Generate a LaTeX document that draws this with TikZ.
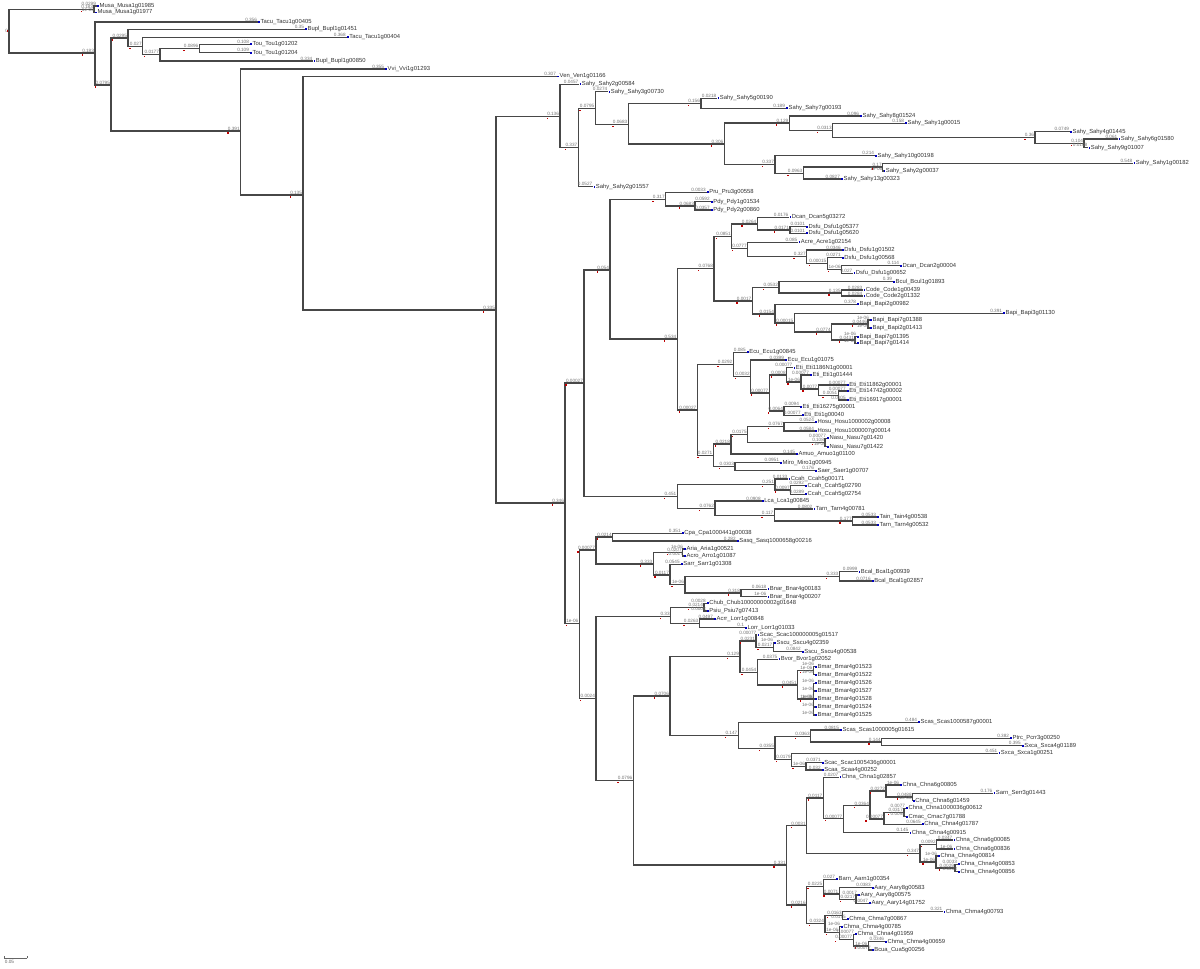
\documentclass[tikz,border=0pt]{standalone}
\usepackage{fontspec}
\setmainfont{Liberation Sans}
\tikzset{
  br/.style={line width=0.78pt, draw=black!72},
  bl/.style={anchor=south east, inner sep=0.2pt, xshift=-0.4pt, yshift=0.1pt, text=black!55, font=\fontsize{3.5}{3.6}\selectfont},
  lf/.style={anchor=west, inner sep=0.2pt, xshift=1.6pt, text=black!80, font=\fontsize{4.4}{5}\selectfont},
  bsq/.style={fill=blue!75!black, inner sep=0pt, minimum width=1.3pt, minimum height=1.3pt, anchor=west},
  rmk/.style={fill=red!75!black, inner sep=0pt, minimum size=1pt}
}
\newcommand{\tnode}[5]{%
  \coordinate (#1) at (#2,#3);
  \draw[br] (#4) |- (#1);
  \node[bl] (#1L) at (#1) {#5};
  \node[rmk] (#1M) at ([xshift=0.4pt,yshift=-1.6pt]#1L.south west) {};
}
\newcommand{\tleaf}[6]{%
  \coordinate (#1) at (#2,#3);
  \draw[br] (#4) |- (#1);
  \node[bl] (#1L) at (#1) {#5};
  \node[bsq] (#1B) at (#1) {};
  \node[lf] (#1T) at (#1) {#6};
}
\begin{document}
\begin{tikzpicture}[x=0.75pt,y=-0.75pt]
\fill[white] (0,0) rectangle (1200,968);
\useasboundingbox (0,0) rectangle (1200,968);
\coordinate (R) at (9,31.5);
\node[bl,anchor=east,xshift=0pt] (RL) at (R) {0};
\node[rmk] (RM) at ([xshift=-1pt,yshift=0.5pt]R) {};
% Musa
\tnode{A}{94}{9.3}{R}{0.183}
\tleaf{a1}{97}{6}{A}{0.0299}{Musa\_Musa1g01985}
\tleaf{a2}{95}{12.5}{A}{1e-06}{Musa\_Musa1g01977}
\tnode{B}{95}{53}{R}{0.183}
\tleaf{b1}{258}{22}{B}{0.356}{Tacu\_Tacu1g00405}
\tnode{B2}{111}{85}{B}{0.0795}
\tnode{B2a}{128}{38}{B2}{0.0295}
\tleaf{c1}{305}{29.3}{B2a}{0.35}{Bupl\_Bupl1g01451}
\tnode{C2}{142.7}{46.7}{B2a}{0.027}
\tleaf{c3}{346.7}{37.3}{C2}{0.368}{Tacu\_Tacu1g00404}
\tnode{C4}{160}{54.5}{C2}{0.0177}
\tnode{C5}{199.3}{48.5}{C4}{0.0896}
\tleaf{c6}{250}{44.3}{C5}{0.108}{Tou\_Tou1g01202}
\tleaf{c7}{250}{52.7}{C5}{0.109}{Tou\_Tou1g01204}
\tleaf{c8}{313.3}{61}{C4}{0.334}{Bupl\_Bupl1g00850}
\tnode{D}{240.7}{131}{B2}{0.391}
\tleaf{d1}{385}{69}{D}{0.355}{Vvi\_Vvi1g01293}
\tnode{E}{303}{195}{D}{0.135}
\tleaf{e1}{557}{76.5}{E}{0.307}{Ven\_Ven1g01166}
\tnode{F}{496}{310}{E}{0.335}
% Sahy clade
\tnode{G}{560}{116.7}{F}{0.136}
\tleaf{g1}{579.3}{84.3}{G}{0.0457}{Sahy\_Sahy2g00584}
\tnode{G2}{578.3}{147.3}{G}{0.337}
\tnode{G3}{595.3}{108.3}{G2}{0.0795}
\tleaf{g4}{608.3}{91.7}{G3}{0.0274}{Sahy\_Sahy3g00730}
\tnode{G5}{628.3}{124.3}{G3}{0.0683}
\tnode{G6}{701}{103.3}{G5}{0.156}
\tleaf{g7}{717.3}{98.3}{G6}{0.0218}{Sahy\_Sahy5g00190}
\tleaf{g8}{786}{108.3}{G6}{0.189}{Sahy\_Sahy7g00193}
\tnode{G9}{724.3}{144}{G5}{0.306}
\tnode{G10}{789.3}{123}{G9}{0.129}
\tleaf{g11}{860}{116}{G10}{0.096}{Sahy\_Sahy8g01524}
\tnode{G12}{832.7}{130.5}{G10}{0.0313}
\tleaf{g13}{905}{123.3}{G12}{0.158}{Sahy\_Sahy1g00015}
\tnode{G14}{1035}{137.7}{G12}{0.36}
\tleaf{g15}{1070}{131.7}{G14}{0.0749}{Sahy\_Sahy4g01445}
\tnode{G16}{1084}{143.3}{G14}{0.104}
\tleaf{g17}{1118.3}{139}{G16}{0.061}{Sahy\_Sahy6g01580}
\tleaf{g18}{1088.3}{147.7}{G16}{0.0108}{Sahy\_Sahy9g01007}
\tnode{G19}{775}{164.5}{G9}{0.337}
\tleaf{g20}{875}{155.7}{G19}{0.214}{Sahy\_Sahy10g00198}
\tnode{G21}{803.3}{173.3}{G19}{0.0963}
\tnode{G22}{882.7}{167}{G21}{0.17}
\tleaf{g24}{1133.3}{163.3}{G22}{0.548}{Sahy\_Sahy1g00182}
\tleaf{g25}{883.3}{171}{G22}{1e-06}{Sahy\_Sahy2g00037}
\tleaf{g26}{841}{179}{G21}{0.0827}{Sahy\_Sahy13g00323}
\tleaf{g23}{593.3}{186.7}{G2}{0.0527}{Sahy\_Sahy2g01557}
% big lower clade
\tnode{H}{565}{503}{F}{0.346}
\tnode{I}{584}{383}{H}{0.00027}
\tnode{J}{610}{270}{I}{0.054}
\tnode{K}{665.7}{199.5}{J}{0.317}
\tleaf{k1}{706.7}{192.3}{K}{0.0033}{Pru\_Pru3g00558}
\tnode{K2}{695}{206}{K}{0.0683}
\tleaf{k3}{710.7}{201.7}{K2}{0.0592}{Pdy\_Pdy1g01534}
\tleaf{k4}{710.7}{210}{K2}{0.0357}{Pdy\_Pdy2g00860}
\tnode{L}{677.3}{339}{J}{0.534}
\tnode{M}{714}{268.3}{L}{0.0768}
\tnode{M1}{731.7}{236.3}{M}{0.0851}
\tnode{M2}{757.3}{224}{M1}{0.0264}
\tleaf{m3}{789.3}{217.3}{M2}{0.0176}{Dcan\_Dcan5g03272}
\tnode{M4}{790}{230}{M2}{0.0171}
\tleaf{m5}{806}{226.7}{M4}{0.0101}{Dsfu\_Dsfu1g05377}
\tleaf{m6}{806}{233.3}{M4}{0.0101}{Dsfu\_Dsfu1g05620}
\tnode{M7}{747.7}{248.7}{M1}{0.0777}
\tleaf{m8}{798.3}{242.3}{M7}{0.085}{Acre\_Acre1g02154}
\tnode{M9}{806.7}{256.5}{M7}{0.327}
\tleaf{m10}{841.7}{250}{M9}{0.0346}{Dsfu\_Dsfu1g01502}
\tnode{M11}{827.3}{263.5}{M9}{0.00015}
\tleaf{m12}{841.7}{257.7}{M11}{0.0271}{Dsfu\_Dsfu1g00568}
\tnode{M13}{841.7}{269.5}{M11}{1e-06}
\tleaf{m14}{900}{265.7}{M13}{0.114}{Dcan\_Dcan2g00004}
\tleaf{m15}{853.3}{273.3}{M13}{0.027}{Dsfu\_Dsfu1g00652}
\tnode{N}{752.3}{301}{M}{0.0017}
\tnode{N1}{779}{287.5}{N}{0.0532}
\tleaf{n2}{893}{281.7}{N1}{0.39}{Bcul\_Bcul1g01893}
\tnode{N3}{841.7}{293}{N1}{0.135}
\tleaf{n4}{863.3}{290}{N3}{0.0283}{Code\_Code1g00439}
\tleaf{n5}{863.3}{296}{N3}{0.0284}{Code\_Code2g01332}
\tnode{N6}{775}{314}{N}{0.0154}
\tleaf{n7}{857}{304.3}{N6}{0.378}{Bapi\_Bapi2g00982}
\tnode{N8}{794.3}{323}{N6}{0.00015}
\tleaf{n9}{1003}{313.3}{N8}{0.391}{Bapi\_Bapi3g01130}
\tnode{N10}{831.7}{332}{N8}{0.0774}
\tnode{N11}{868}{324}{N10}{0.0446}
\tleaf{n12}{870}{320}{N11}{1e-06}{Bapi\_Bapi7g01388}
\tleaf{n13}{870}{328}{N11}{1e-06}{Bapi\_Bapi2g01413}
\tnode{N12}{855}{340}{N10}{0.0431}
\tleaf{n14}{857}{336.7}{N12}{1e-06}{Bapi\_Bapi7g01395}
\tleaf{n15}{857}{343.3}{N12}{1e-06}{Bapi\_Bapi7g01414}
\tnode{O}{697.3}{410}{L}{0.00027}
\tnode{O1}{733.3}{364.5}{O}{0.0292}
\tleaf{o2}{746.7}{352.3}{O1}{0.085}{Ecu\_Ecu1g00845}
\tnode{O3}{750.7}{376.5}{O1}{0.0032}
\tleaf{o4}{785}{360}{O3}{0.0399}{Ecu\_Ecu1g01075}
\tnode{O5}{769.3}{393}{O3}{0.00077}
\tnode{O6}{786.7}{375}{O5}{0.0008}
\tleaf{o7}{793.3}{367.7}{O6}{0.00077}{Eti\_Eti1186N1g00001}
\tnode{O8}{801}{382}{O6}{1e-06}
\tleaf{o9}{810}{375}{O8}{0.00077}{Eti\_Eti1g01444}
\tnode{O10}{818.3}{389}{O8}{0.0077}
\tleaf{o11}{846.7}{385}{O10}{0.00077}{Eti\_Eti11862g00001}
\tnode{O12}{838.3}{395.5}{O10}{0.0051}
\tleaf{o13}{846.7}{391}{O12}{0.00077}{Eti\_Eti14742g00002}
\tleaf{o14}{846.7}{400}{O12}{0.0105}{Eti\_Eti16917g00001}
\tnode{O15}{784}{411}{O5}{0.0064}
\tleaf{o16}{800}{406.7}{O15}{0.0094}{Eti\_Eti16275g00001}
\tleaf{o17}{801.7}{415.3}{O15}{0.00077}{Eti\_Eti1g00040}
\tnode{P}{713.3}{455.5}{O}{0.0271}
\tnode{P1}{731}{444}{P}{0.0218}
\tnode{P2}{747.7}{434.5}{P1}{0.0175}
\tnode{P3}{784}{426.7}{P2}{0.0767}
\tleaf{p4}{815}{422.3}{P3}{0.0524}{Hosu\_Hosu1000002g00008}
\tleaf{p5}{815}{431}{P3}{0.0584}{Hosu\_Hosu1000007g00014}
\tnode{P6}{825}{442.5}{P2}{0.108}
\tleaf{p7}{827}{438.3}{P6}{0.00077}{Nasu\_Nasu7g01420}
\tleaf{p8}{827}{446.7}{P6}{1e-06}{Nasu\_Nasu7g01422}
\tleaf{p9}{796}{454}{P1}{0.145}{Amuo\_Amuo1g01100}
\tnode{P10}{735}{466.7}{P}{0.0303}
\tleaf{p11}{780}{462.7}{P10}{0.0951}{Miro\_Miro1g00945}
\tleaf{p12}{815}{470.7}{P10}{0.176}{Saer\_Saer1g00707}
\tnode{Q}{677.3}{496.7}{I}{0.451}
\tnode{Q1}{775}{484.5}{Q}{0.251}
\tleaf{q2}{788.3}{479}{Q1}{0.0133}{Ccah\_Ccah5g00171}
\tnode{Q3}{790.7}{490}{Q1}{0.0097}
\tleaf{q4}{805}{485.7}{Q3}{0.0292}{Ccah\_Ccah5g02790}
\tleaf{q5}{805}{494.3}{Q3}{0.0289}{Ccah\_Ccah5g02754}
\tnode{Q6}{715}{508.3}{Q}{0.0762}
\tleaf{q7}{761.7}{501}{Q6}{0.0908}{Lca\_Lca1g00845}
\tnode{Q8}{774.3}{515.5}{Q6}{0.117}
\tleaf{q9}{813.3}{509}{Q8}{0.0802}{Tarn\_Tarn4g00781}
\tnode{Q10}{852.7}{521}{Q8}{0.177}
\tleaf{q11}{877}{517}{Q10}{0.0533}{Tain\_Tain4g00538}
\tleaf{q12}{877}{525}{Q10}{0.0533}{Tarn\_Tarn4g00532}
\tnode{S}{579.3}{623.3}{H}{1e-06}
\tnode{S1}{596}{550}{S}{0.00077}
\tnode{S2}{612.7}{537}{S1}{0.0214}
\tleaf{s3}{681.7}{533.3}{S2}{0.351}{Cpa\_Cpa1000441g00038}
\tleaf{s4}{736.7}{541}{S2}{0.282}{Sasq\_Sasq1000658g00216}
\tnode{S5}{653.3}{564}{S1}{0.333}
\tnode{S6}{682.7}{552.5}{S5}{0.0207}
\tleaf{s7}{684}{549}{S6}{1e-06}{Aria\_Aria1g00521}
\tleaf{s8}{684}{556}{S6}{0.0017}{Acro\_Arro1g01087}
\tnode{S9}{670}{575}{S5}{0.0117}
\tleaf{s10}{680.7}{564.3}{S9}{0.0545}{Sarr\_Sarr1g01308}
\tnode{S11}{685}{584.5}{S9}{1e-06}
\tnode{S12}{839.3}{576.3}{S11}{0.333}
\tleaf{s13}{858.3}{571.7}{S12}{0.0999}{Bcal\_Bcal1g00939}
\tleaf{s14}{871.7}{581}{S12}{0.0716}{Bcal\_Bcal1g02857}
\tnode{S15}{741}{593}{S11}{0.318}
\tleaf{s16}{767.3}{589.3}{S15}{0.0618}{Bnar\_Bnar4g00183}
\tleaf{s17}{767.3}{596.7}{S15}{1e-06}{Bnar\_Bnar4g00207}
\tnode{T}{596}{698.7}{S}{0.0024}
\tnode{T1}{670.7}{616.7}{T}{0.33}
\tnode{T2}{704}{607.3}{T1}{0.0214}
\tleaf{t3}{706.7}{603.3}{T2}{0.0028}{Chub\_Chub10000000002g01648}
\tleaf{t4}{706.7}{611}{T2}{0.0008}{Psiu\_Psiu7g07413}
\tnode{T5}{699.3}{623.3}{T1}{0.0263}
\tleaf{t6}{714}{619}{T5}{0.0497}{Acrr\_Lorr1g00848}
\tleaf{t7}{745}{627.7}{T5}{0.1}{Lorr\_Lorr1g01033}
\tnode{U}{633.3}{780.7}{T}{0.0796}
\tnode{U1}{670}{696}{U}{0.0706}
\tnode{U2}{740}{656.7}{U1}{0.129}
\tnode{U3}{756}{641}{U2}{0.0231}
\tleaf{u4}{757.3}{635}{U3}{0.00077}{Scac\_Scac100000005g01517}
\tnode{U5}{773.3}{647.2}{U3}{0.0217}
\tleaf{u6}{774}{642.7}{U5}{1e-06}{Sscu\_Sscu4g02359}
\tleaf{u7}{801.7}{651.7}{U5}{0.0842}{Sscu\_Sscu4g00538}
\tnode{U8}{757.3}{672.3}{U2}{0.0454}
\tleaf{u9}{778.3}{659.3}{U8}{0.0375}{Bvor\_Bvor1g02052}
\tnode{U10}{797.7}{685}{U8}{0.0451}
\tnode{U11}{813.3}{670.7}{U10}{1e-06}
\tleaf{u12}{815}{666.7}{U11}{1e-06}{Bmar\_Bmar4g01523}
\tleaf{u13}{815}{674.7}{U11}{1e-06}{Bmar\_Bmar4g01522}
\tnode{U14}{813.3}{699}{U10}{1e-06}
\tleaf{u14a}{815}{683.3}{U14}{1e-06}{Bmar\_Bmar4g01526}
\tleaf{u14b}{815}{691}{U14}{1e-06}{Bmar\_Bmar4g01527}
\tleaf{u14c}{815}{699}{U14}{1e-06}{Bmar\_Bmar4g01528}
\tleaf{u14d}{815}{707}{U14}{1e-06}{Bmar\_Bmar4g01524}
\tleaf{u14e}{815}{715}{U14}{1e-06}{Bmar\_Bmar4g01525}
\tnode{U15}{738.3}{735.3}{U1}{0.147}
\tleaf{u16}{918}{722.3}{U15}{0.484}{Scas\_Scas1000587g00001}
\tnode{U17}{775}{748.3}{U15}{0.0355}
\tnode{U18}{810.7}{736.3}{U17}{0.0363}
\tleaf{u19}{840}{730}{U18}{0.0815}{Scas\_Scas1000005g01615}
\tnode{U20}{881.7}{742}{U18}{0.144}
\tleaf{u21}{1010}{738.3}{U20}{0.382}{Ptrc\_Pcrr3g00250}
\tleaf{u22}{1021.7}{745.7}{U20}{0.395}{Sxca\_Sxca4g01189}
\tnode{U23}{791.7}{759.5}{U17}{0.0179}
\tleaf{u24}{998.3}{753.3}{U23}{0.451}{Sxca\_Sxca1g00251}
\tnode{U25}{806}{766.3}{U23}{1e-06}
\tleaf{u26}{821.7}{762.7}{U25}{0.0371}{Scac\_Scac1005436g00001}
\tleaf{u27}{821.7}{770}{U25}{0.032}{Scaa\_Scaa4g00252}
\tnode{V}{786.7}{865}{U}{0.331}
\tnode{V1}{806.7}{825.8}{V}{0.0031}
\tnode{V2}{823.3}{798}{V1}{0.0117}
\tleaf{v3}{839.3}{777.3}{V2}{0.0207}{Chna\_Chna1g02857}
\tnode{V4}{843.3}{818.8}{V2}{0.00077}
\tnode{V5}{870}{805.8}{V4}{0.0364}
\tnode{V6}{886}{791}{V5}{0.0272}
\tleaf{v7}{900}{785}{V6}{1e-06}{Chna\_Chna6g00805}
\tnode{V8}{912.7}{797}{V6}{0.0488}
\tleaf{v9}{993.3}{793.3}{V8}{0.176}{Sarn\_Serr3g01443}
\tleaf{v10}{912.7}{800.7}{V8}{1e-06}{Chna\_Chna6g01459}
\tnode{V11}{884}{819}{V5}{0.00077}
\tnode{V12}{904}{812.5}{V11}{0.0317}
\tleaf{v13}{906}{808.3}{V12}{0.0077}{Chna\_Chna1000036g00612}
\tleaf{v14}{906}{816.7}{V12}{0.0095}{Cmac\_Cmac7g01788}
\tleaf{v15}{921.7}{824.3}{V11}{0.0645}{Chna\_Chna4g01787}
\tleaf{v16}{909.3}{832.7}{V4}{0.145}{Chna\_Chna4g00915}
\tnode{V17}{920}{853.3}{V1}{0.347}
\tnode{V18}{936.7}{844.5}{V17}{0.0092}
\tleaf{v19}{953.3}{840}{V18}{0.0347}{Chna\_Chna6g00085}
\tleaf{v20}{953.3}{849}{V18}{1e-06}{Chna\_Chna6g00836}
\tnode{V21}{936}{862}{V17}{1e-06}
\tleaf{v22}{938}{856}{V21}{1e-06}{Chna\_Chna4g00814}
\tnode{V23}{955}{868}{V21}{0.0029}
\tleaf{v24}{958}{864.3}{V23}{0.0033}{Chna\_Chna4g00853}
\tleaf{v25}{958}{871.7}{V23}{0.0033}{Chna\_Chna4g00856}
\tnode{W}{806.7}{905}{V}{0.0216}
\tnode{W1}{823.3}{886.7}{W}{0.0225}
\tleaf{w2}{836}{879.3}{W1}{0.027}{Barn\_Aarn1g00354}
\tnode{W3}{839.3}{894}{W1}{0.0071}
\tleaf{w4}{871.7}{887.7}{W3}{0.0383}{Aary\_Aary8g00583}
\tnode{W5}{856}{899.2}{W3}{0.0217}
\tleaf{w6}{858}{895}{W5}{0.0017}{Aary\_Aary8g00575}
\tleaf{w7}{869}{903.3}{W5}{0.0047}{Aary\_Aary14g01752}
\tnode{W8}{825}{923.3}{W}{0.0324}
\tnode{W9}{842.7}{915.5}{W8}{0.0163}
\tleaf{w10}{943.3}{911.7}{W9}{0.321}{Chma\_Chma4g00793}
\tleaf{w11}{846.7}{919.3}{W9}{0.0175}{Chma\_Chma7g00867}
\tnode{W12}{839.3}{932.7}{W8}{1e-06}
\tleaf{w13}{841}{926.7}{W12}{1e-06}{Chma\_Chma4g00785}
\tnode{W14}{853.3}{939.3}{W12}{0.00077}
\tleaf{w15}{855}{934.3}{W14}{0.00077}{Chma\_Chna4g01959}
\tnode{W16}{868.3}{946}{W14}{1e-06}
\tleaf{w17}{885}{941.7}{W16}{0.0346}{Chma\_Chma4g00659}
\tleaf{w18}{871.7}{950}{W16}{0.00077}{Bcua\_Cua5g00256}
% scale bar
\coordinate (sb1) at (4.3,958.3);
\coordinate (sb2) at (27.3,958.3);
\draw[line width=0.5pt, black!60] (sb1) -- (sb2);
\draw[line width=0.5pt, black!60] (sb1) -- ++(0,-2);
\draw[line width=0.5pt, black!60] (sb2) -- ++(0,-2);
\node[anchor=north west, inner sep=0.3pt, text=black!60, font=\fontsize{3.5}{3.6}\selectfont] (sbl) at ([yshift=-0.6pt]sb1) {0.05};
\end{tikzpicture}
\end{document}
